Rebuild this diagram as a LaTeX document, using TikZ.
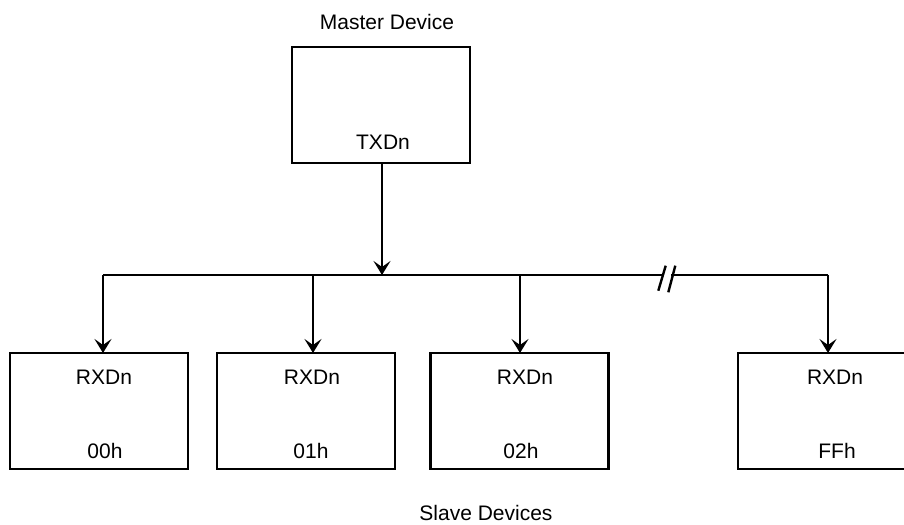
\documentclass[tikz,border=0pt]{standalone}
\usepackage{fontspec}
\setmainfont{Liberation Sans}
\usetikzlibrary{arrows.meta}
\begin{document}
\begin{tikzpicture}[x=1bp,y=-1bp,
  box/.style={draw,line width=2.5bp,minimum width=178bp,minimum height=116bp,inner sep=0pt,outer sep=0pt},
  lbl/.style={inner sep=0pt,font=\fontsize{21bp}{25bp}\selectfont},
  wire/.style={line width=2.4bp},
  arr/.style={wire,-{Stealth[length=14bp,width=17bp,inset=6bp]}}]
\useasboundingbox (0,0) rectangle (904,525);
% boxes
\node[box] (m) at (381,105) {};
\node[box] (s1) at (99,411) {};
\node[box] (s2) at (306,411) {};
\node[box] (s3) at (519.5,411) {};
\node[box] (s4) at (827,411) {};
% labels
\node[lbl] (mt) at (387,22) {Master Device};
\node[lbl] (tx) at (383,142) {TXDn};
\node[lbl] (r1) at (104,377) {RXDn};
\node[lbl] (a1) at (105,451) {00h};
\node[lbl] (r2) at (312,377) {RXDn};
\node[lbl] (a2) at (311,451) {01h};
\node[lbl] (r3) at (525,377) {RXDn};
\node[lbl] (a3) at (521,451) {02h};
\node[lbl] (r4) at (835,377) {RXDn};
\node[lbl] (a4) at (837,451) {FFh};
\node[lbl] (sd) at (486,512.5) {Slave Devices};
% bus coordinates
\coordinate (bm) at (382,275);
\coordinate (j1) at (103,275);
\coordinate (j2) at (313,275);
\coordinate (j3) at (520,275);
\coordinate (j4) at (828,275);
\coordinate (bl) at (662,275);
\coordinate (br) at (671,275);
% connectors
\draw[wire] (bl) -- (j1);
\draw[wire] (br) -- (j4);
\draw[arr] (m.south -| bm) -- (bm);
\draw[arr] (j1) -- (j1 |- s1.north);
\draw[arr] (j2) -- (j2 |- s2.north);
\draw[arr] (j3) -- (j3 |- s3.north);
\draw[arr] (j4) -- (j4 |- s4.north);
% break marks
\draw[wire] (658.3,290.7) -- (665.7,265.7);
\draw[wire] (668.3,292.3) -- (675.3,265.7);
\end{tikzpicture}
\end{document}
